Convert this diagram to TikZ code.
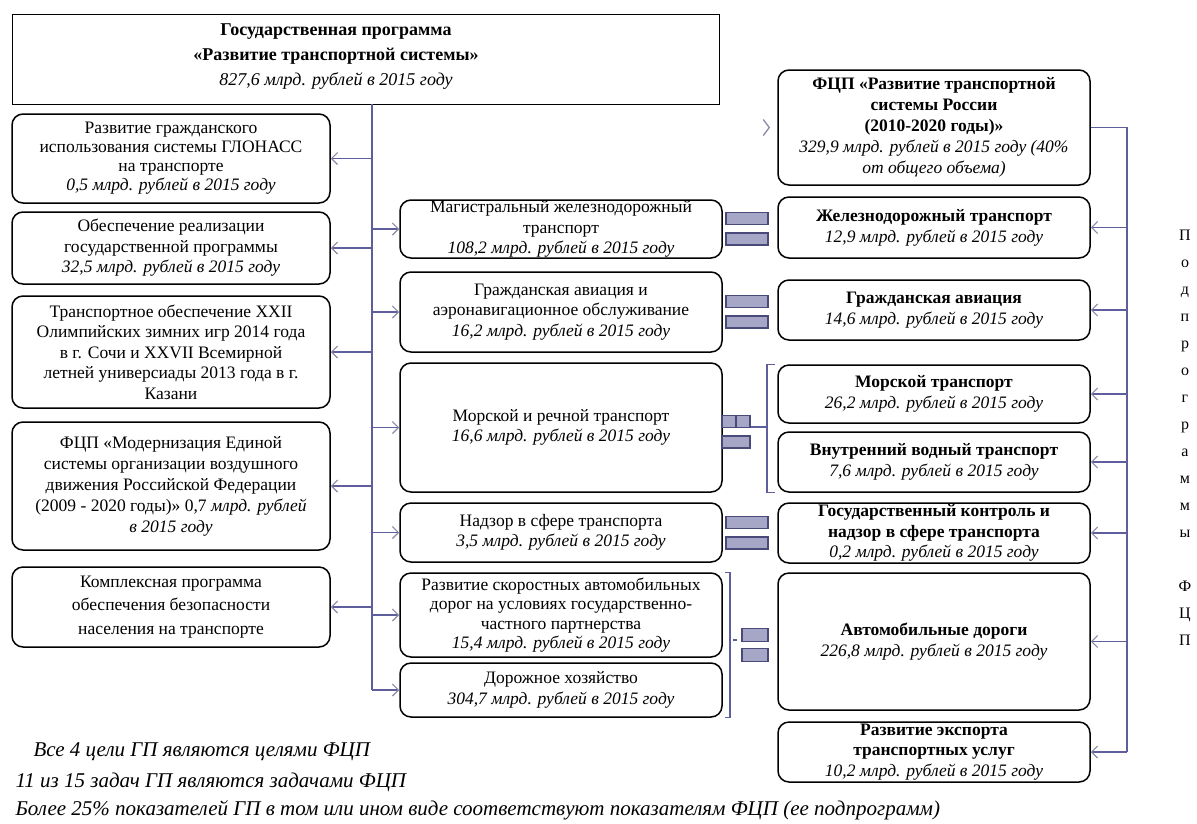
\documentclass[tikz,border=0pt]{standalone}
\usepackage{fontspec}
\setmainfont{Liberation Serif}
\usetikzlibrary{arrows.meta}
\definecolor{linkc}{HTML}{5E5E9C}
\definecolor{tipc}{HTML}{8A8AA8}
\definecolor{barfill}{HTML}{A6A6C6}
\definecolor{barline}{HTML}{4A4A7A}
\newcommand{\fsz}[2]{\fontsize{#1}{#2}\selectfont}
\newcommand{\mlrd}[1]{{\mdseries\itshape #1 млрд. рублей в 2015 году}}

\begin{document}
\begin{tikzpicture}[x=1pt,y=-1pt,
  box/.style={draw,line width=1.5pt,rounded corners=11pt,align=center,inner sep=0pt,font=\fsz{17.5}{20.5}},
  lbox/.style={box,minimum width=318pt},
  mbox/.style={box,minimum width=322pt},
  rbox/.style={box,minimum width=312pt,font=\fsz{17.5}{21}\bfseries},
  link/.style={draw=linkc,line width=1.1pt},
  arr/.style={link,-{Straight Barb[length=6pt,width=12pt,color=tipc]}},
  bar/.style={draw=barline,fill=barfill,line width=1.3pt,minimum width=42pt,minimum height=12pt,inner sep=0pt},
  note/.style={anchor=west,font=\fsz{21}{24}\itshape}]
  \useasboundingbox (0,0) rectangle (1197,823);

  % state programme
  \node[draw,line width=1pt,minimum width=707pt,minimum height=90pt,inner sep=0pt] (gp) at (365.5,59) {};
  \node[align=center,font=\fsz{18}{25}\bfseries] (gptext) at (336,57)
    {Государственная программа\\«Развитие транспортной системы»\\\mlrd{827,6}};

  % left column
  \node[lbox,minimum height=89pt,font=\fsz{17.5}{19}] (glonass) at (171,158.5)
    {Развитие гражданского\\использования системы ГЛОНАСС\\на транспорте\\\mlrd{0,5}};
  \node[lbox,minimum height=72pt] (support) at (171,248)
    {Обеспечение реализации\\государственной программы\\\mlrd{32,5}};
  \node[lbox,minimum height=112pt] (olymp) at (171,352)
    {Транспортное обеспечение XXII\\Олимпийских зимних игр 2014 года\\в г. Сочи и XXVII Всемирной\\летней универсиады 2013 года в г.\\Казани};
  \node[lbox,minimum height=128pt,font=\fsz{17.5}{21}] (atm) at (171,486)
    {ФЦП «Модернизация Единой\\системы организации воздушного\\движения Российской Федерации\\(2009 - 2020 годы)» 0,7 \textit{млрд. рублей}\\\textit{в 2015 году}};
  \node[lbox,minimum height=80pt,font=\fsz{17.5}{23.5}] (safety) at (171,607)
    {Комплексная программа\\обеспечения безопасности\\населения на транспорте};

  % middle column
  \node[mbox,minimum height=58pt] (rail) at (561,229)
    {Магистральный железнодорожный\\транспорт\\\mlrd{108,2}};
  \node[mbox,minimum height=80pt] (avia) at (561,312)
    {Гражданская авиация и\\аэронавигационное обслуживание\\\mlrd{16,2}};
  \node[mbox,minimum height=129pt] (sea) at (561,427.5)
    {Морской и речной транспорт\\\mlrd{16,6}};
  \node[mbox,minimum height=59pt] (control) at (561,532.5)
    {Надзор в сфере транспорта\\\mlrd{3,5}};
  \node[mbox,minimum height=84pt,font=\fsz{17.5}{19.5}] (highway) at (561,615)
    {Развитие скоростных автомобильных\\дорог на условиях государственно-\\частного партнерства\\\mlrd{15,4}};
  \node[mbox,minimum height=54pt] (roads) at (561,690)
    {Дорожное хозяйство\\\mlrd{304,7}};

  % right column
  \node[rbox,minimum height=115pt] (fcp) at (934,127.5)
    {ФЦП «Развитие транспортной\\системы России\\(2010-2020 годы)»\\\mlrd{329,9} {\mdseries\itshape(40\%}\\{\mdseries\itshape от общего объема)}};
  \node[rbox,minimum height=61pt] (rrail) at (934,227.5) {Железнодорожный транспорт\\\mlrd{12,9}};
  \node[rbox,minimum height=60pt] (ravia) at (934,310) {Гражданская авиация\\\mlrd{14,6}};
  \node[rbox,minimum height=58pt] (rsea) at (934,394) {Морской транспорт\\\mlrd{26,2}};
  \node[rbox,minimum height=60pt] (rriver) at (934,462) {Внутренний водный транспорт\\\mlrd{7,6}};
  \node[rbox,minimum height=60pt,font=\fsz{17.5}{20.5}\bfseries] (rcontrol) at (934,533) {Государственный контроль и\\надзор в сфере транспорта\\\mlrd{0,2}};
  \node[rbox,minimum height=137pt] (rroads) at (934,641.5) {Автомобильные дороги\\\mlrd{226,8}};
  \node[rbox,minimum height=60pt,font=\fsz{17.5}{20.5}\bfseries] (rexport) at (934,752) {Развитие экспорта\\транспортных услуг\\\mlrd{10,2}};

  % double bars between columns
  \foreach \yy/\nm in {229/rail,312/avia,533/ctrl} {
    \node[bar] (\nm-bara) at (747,\yy-10.5) {};
    \node[bar] (\nm-barb) at (747,\yy+10) {};
  }
  \node[bar,minimum width=14pt] (sea-bara) at (729,421.5) {};
  \node[bar,minimum width=14pt] (sea-barc) at (743,421.5) {};
  \node[bar,minimum width=28pt] (sea-barb) at (736,442) {};
  \node[bar,minimum width=26pt,minimum height=13pt] (road-bara) at (755,635) {};
  \node[bar,minimum width=26pt,minimum height=13pt] (road-barb) at (755,655) {};

  % brackets
  \coordinate (seabrk) at (767,427);
  \draw[link] ([xshift=-2pt]rsea.north west) -| (seabrk) |- ([xshift=-2pt]rriver.south west);
  \draw[link] (sea-barc.east |- seabrk) -- (seabrk);
  \coordinate (roadbrk) at (730,640);
  \draw[link] ([xshift=2pt]highway.north east) -| (roadbrk) |- ([xshift=2pt]roads.south east);
  \draw[link,shorten <=3pt,shorten >=4pt] (roadbrk) -- (road-bara.west |- roadbrk);

  % left trunk
  \coordinate (ltop) at (372,104);
  \coordinate (lend) at (372,690);
  \draw[link] (ltop) -- (lend);
  \foreach \n in {glonass,support,olymp,atm,safety}
    \draw[arr] (ltop |- \n.east) -- (\n.east);
  \foreach \n in {rail,avia,sea,control,highway,roads}
    \draw[arr] (ltop |- \n.west) -- (\n.west);
  \draw[tipc,line width=1.3pt] ([xshift=-14pt,yshift=-8pt]fcp.west) -- ([xshift=-8pt]fcp.west)
    -- ([xshift=-14pt,yshift=8pt]fcp.west);

  % right trunk
  \coordinate (rtop) at (1127,127.5);
  \coordinate (rend) at (1127,752);
  \draw[link] (fcp.east) -- (rtop) -- (rend);
  \foreach \n in {rrail,ravia,rsea,rriver,rcontrol,rroads,rexport}
    \draw[arr] (rtop |- \n.east) -- (\n.east);

  % vertical caption
  \node[align=center,font=\fsz{16}{27}] (subprog) at (1185,437.5)
    {П\\о\\д\\п\\р\\о\\г\\р\\а\\м\\м\\ы\\ \\Ф\\Ц\\П};

  % notes
  \node[note] (goals) at (30,752) {Все 4 цели ГП являются целями ФЦП};
  \node[note] (tasks) at (12,782) {11 из 15 задач ГП являются задачами ФЦП};
  \node[note] (index) at (12,810) {Более 25\% показателей ГП в том или ином виде соответствуют показателям ФЦП (ее подпрограмм)};
\end{tikzpicture}
\end{document}
